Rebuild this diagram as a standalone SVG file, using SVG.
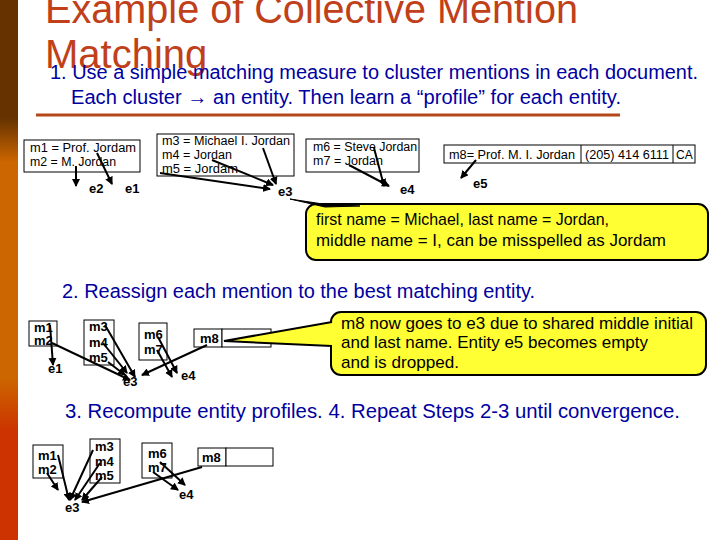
<svg xmlns="http://www.w3.org/2000/svg" width="720" height="540" viewBox="0 0 720 540">
<defs>
<marker id="ah" markerWidth="8" markerHeight="8" refX="7" refY="4" orient="auto" markerUnits="userSpaceOnUse"><path d="M0,0 L8,4 L0,8 z" fill="#000"/></marker>
<linearGradient id="bar" x1="0" y1="0" x2="0" y2="1">
<stop offset="0" stop-color="#663300"/><stop offset="0.22" stop-color="#663300"/><stop offset="0.3" stop-color="#CC6600"/><stop offset="0.7" stop-color="#CC6600"/><stop offset="0.8" stop-color="#CC3300"/><stop offset="1" stop-color="#CC3300"/>
</linearGradient>
</defs>
<style>
.t{font-family:"Liberation Sans",Arial,sans-serif;fill:#000;font-size:13px;font-weight:bold}
.n{font-family:"Liberation Sans",Arial,sans-serif;fill:#000;font-size:12px}
.b{fill:#fff;stroke:#000;stroke-width:1}
.c{stroke:#000;stroke-width:2;fill:none;marker-end:url(#ah)}
.h{font-family:"Liberation Sans",Arial,sans-serif;fill:#0000A0;font-size:20px}
.q{font-family:"Liberation Sans",Arial,sans-serif;fill:#000;font-size:17px}
.call{fill:#FFFF33;stroke:#000;stroke-width:2}
</style>
<rect width="720" height="540" fill="#fff"/>
<rect x="0" y="0" width="18" height="540" fill="url(#bar)"/>
<text x="45" y="23" font-family="Liberation Sans,Arial,sans-serif" font-size="40" fill="#C0401A" textLength="533" lengthAdjust="spacingAndGlyphs">Example of Collective Mention</text>
<text x="45" y="68" font-family="Liberation Sans,Arial,sans-serif" font-size="40" fill="#C0401A">Matching</text>
<text class="h" x="50" y="79" textLength="648" lengthAdjust="spacingAndGlyphs">1. Use a simple matching measure to cluster mentions in each document.</text>
<text class="h" x="71" y="104" textLength="550" lengthAdjust="spacingAndGlyphs">Each cluster → an entity. Then learn a “profile” for each entity.</text>
<line x1="36" y1="115" x2="620" y2="115" stroke="#B5481A" stroke-width="3"/>

<g id="box1"><rect class="b" x="24" y="140" width="116" height="32"/><text class="n" x="30" y="152" textLength="106" lengthAdjust="spacingAndGlyphs">m1 = Prof. Jordam</text><text class="n" x="30" y="166" textLength="86" lengthAdjust="spacingAndGlyphs">m2 = M. Jordan</text></g>
<g id="box2"><rect class="b" x="157" y="134" width="137" height="42"/><text class="n" x="162" y="145" textLength="128" lengthAdjust="spacingAndGlyphs">m3 = Michael I. Jordan</text><text class="n" x="162" y="159" textLength="70" lengthAdjust="spacingAndGlyphs">m4 = Jordan</text><text class="n" x="162" y="173" textLength="76" lengthAdjust="spacingAndGlyphs">m5 = Jordam</text></g>
<g id="box3"><rect class="b" x="306" y="139" width="113" height="33"/><text class="n" x="313" y="151" textLength="104" lengthAdjust="spacingAndGlyphs">m6 = Steve Jordan</text><text class="n" x="313" y="165" textLength="70" lengthAdjust="spacingAndGlyphs">m7 = Jordan</text></g>
<g id="box4"><rect class="b" x="444" y="145" width="251" height="18"/><line x1="581" y1="145" x2="581" y2="163" stroke="#000"/><line x1="673" y1="145" x2="673" y2="163" stroke="#000"/><text class="n" x="449" y="159" textLength="126" lengthAdjust="spacingAndGlyphs">m8= Prof. M. I. Jordan</text><text class="n" x="585" y="159" textLength="84" lengthAdjust="spacingAndGlyphs">(205) 414 6111</text><text class="n" x="676" y="159">CA</text></g>
<g id="e-top"><text class="t" x="89" y="193">e2</text><text class="t" x="125" y="193">e1</text><text class="t" x="278" y="196">e3</text><text class="t" x="400" y="194">e4</text><text class="t" x="473" y="188">e5</text></g>
<g id="note1"><rect class="call" x="306" y="204" width="402" height="56" rx="10"/><text class="q" x="316" y="225" textLength="293" lengthAdjust="spacingAndGlyphs">first name = Michael, last name = Jordan,</text><text class="q" x="316" y="246" textLength="350" lengthAdjust="spacingAndGlyphs">middle name = I, can be misspelled as Jordam</text></g>

<text class="h" x="62" y="298" textLength="473" lengthAdjust="spacingAndGlyphs">2. Reassign each mention to the best matching entity.</text>
<g id="b2a"><rect class="b" x="29" y="321" width="28" height="25"/><text class="t" x="34" y="332">m1</text><text class="t" x="34" y="345">m2</text></g>
<g id="b2b"><rect class="b" x="84" y="320" width="30" height="45"/><text class="t" x="89" y="331">m3</text><text class="t" x="89" y="347">m4</text><text class="t" x="89" y="362">m5</text></g>
<g id="b2c"><rect class="b" x="139" y="323" width="28" height="37"/><text class="t" x="144" y="339">m6</text><text class="t" x="144" y="354">m7</text></g>
<g id="b2d"><rect class="b" x="194" y="329" width="28" height="18"/><rect class="b" x="222" y="329" width="49" height="18"/><text class="t" x="200" y="343">m8</text></g>
<text class="t" x="48" y="373">e1</text><text class="t" x="123" y="386">e3</text><text class="t" x="181" y="380">e4</text>
<g id="note2"><rect class="call" x="331" y="312" width="375" height="63" rx="10"/><text class="q" x="341" y="329" textLength="352" lengthAdjust="spacingAndGlyphs">m8 now goes to e3 due to shared middle initial</text><text class="q" x="341" y="348" textLength="307" lengthAdjust="spacingAndGlyphs">and last name. Entity e5 becomes empty</text><text class="q" x="341" y="368" textLength="118" lengthAdjust="spacingAndGlyphs">and is dropped.</text></g>

<text class="h" x="65" y="418" textLength="615" lengthAdjust="spacingAndGlyphs">3. Recompute entity profiles.  4. Repeat Steps 2-3 until convergence.</text>
<g id="b3a"><rect class="b" x="33" y="445" width="30" height="33"/><text class="t" x="38" y="460">m1</text><text class="t" x="38" y="474">m2</text></g>
<g id="b3b"><rect class="b" x="90" y="439" width="30" height="44"/><text class="t" x="95" y="451">m3</text><text class="t" x="95" y="466">m4</text><text class="t" x="95" y="480">m5</text></g>
<g id="b3c"><rect class="b" x="142" y="443" width="30" height="35"/><text class="t" x="148" y="458">m6</text><text class="t" x="148" y="472">m7</text></g>
<g id="b3d"><rect class="b" x="198" y="448" width="28" height="18"/><rect class="b" x="226" y="448" width="47" height="18"/><text class="t" x="202" y="462">m8</text></g>
<text class="t" x="65" y="512">e3</text><text class="t" x="179" y="499">e4</text>

<g id="connectors">
<path class="c" d="M76 166 L76 186"/>
<path class="c" d="M97 153 L112 184"/>
<path class="c" d="M263 148 L276 184"/>
<path class="c" d="M212 160 L273 185"/>
<path class="c" d="M160 173 L270 189"/>
<path class="c" d="M374 148 L384 186"/>
<path class="c" d="M349 165 L389 186"/>
<path class="c" d="M476 160 L461 178"/>
<path d="M290 199 L323 204 L360 206 L325 207 Z" fill="#000" stroke="#000" stroke-width="1"/>
<path class="c" d="M50 325 L53 365"/>
<path class="c" d="M52 343 L130 380"/>
<path class="c" d="M105 325 L135 377"/>
<path class="c" d="M103 343 L127 373"/>
<path class="c" d="M108 362 L125 375"/>
<path class="c" d="M158 337 L177 373"/>
<path class="c" d="M157 350 L172 377"/>
<path class="c" d="M207 345 L142 375"/>
<path d="M224 341 L332 322 L332 346 Z" fill="#FFFF33" stroke="none"/>
<path d="M332 322 L224 341 L332 346" fill="none" stroke="#000" stroke-width="2"/>
<path class="c" d="M58 455 L69 500"/>
<path class="c" d="M47 473 L58 490"/>
<path class="c" d="M93 450 L70 500"/>
<path class="c" d="M100 463 L75 500"/>
<path class="c" d="M102 477 L82 500"/>
<path class="c" d="M202 467 L82 502"/>
<path class="c" d="M160 462 L185 485"/>
<path class="c" d="M153 472 L178 490"/>
</g>
</svg>
